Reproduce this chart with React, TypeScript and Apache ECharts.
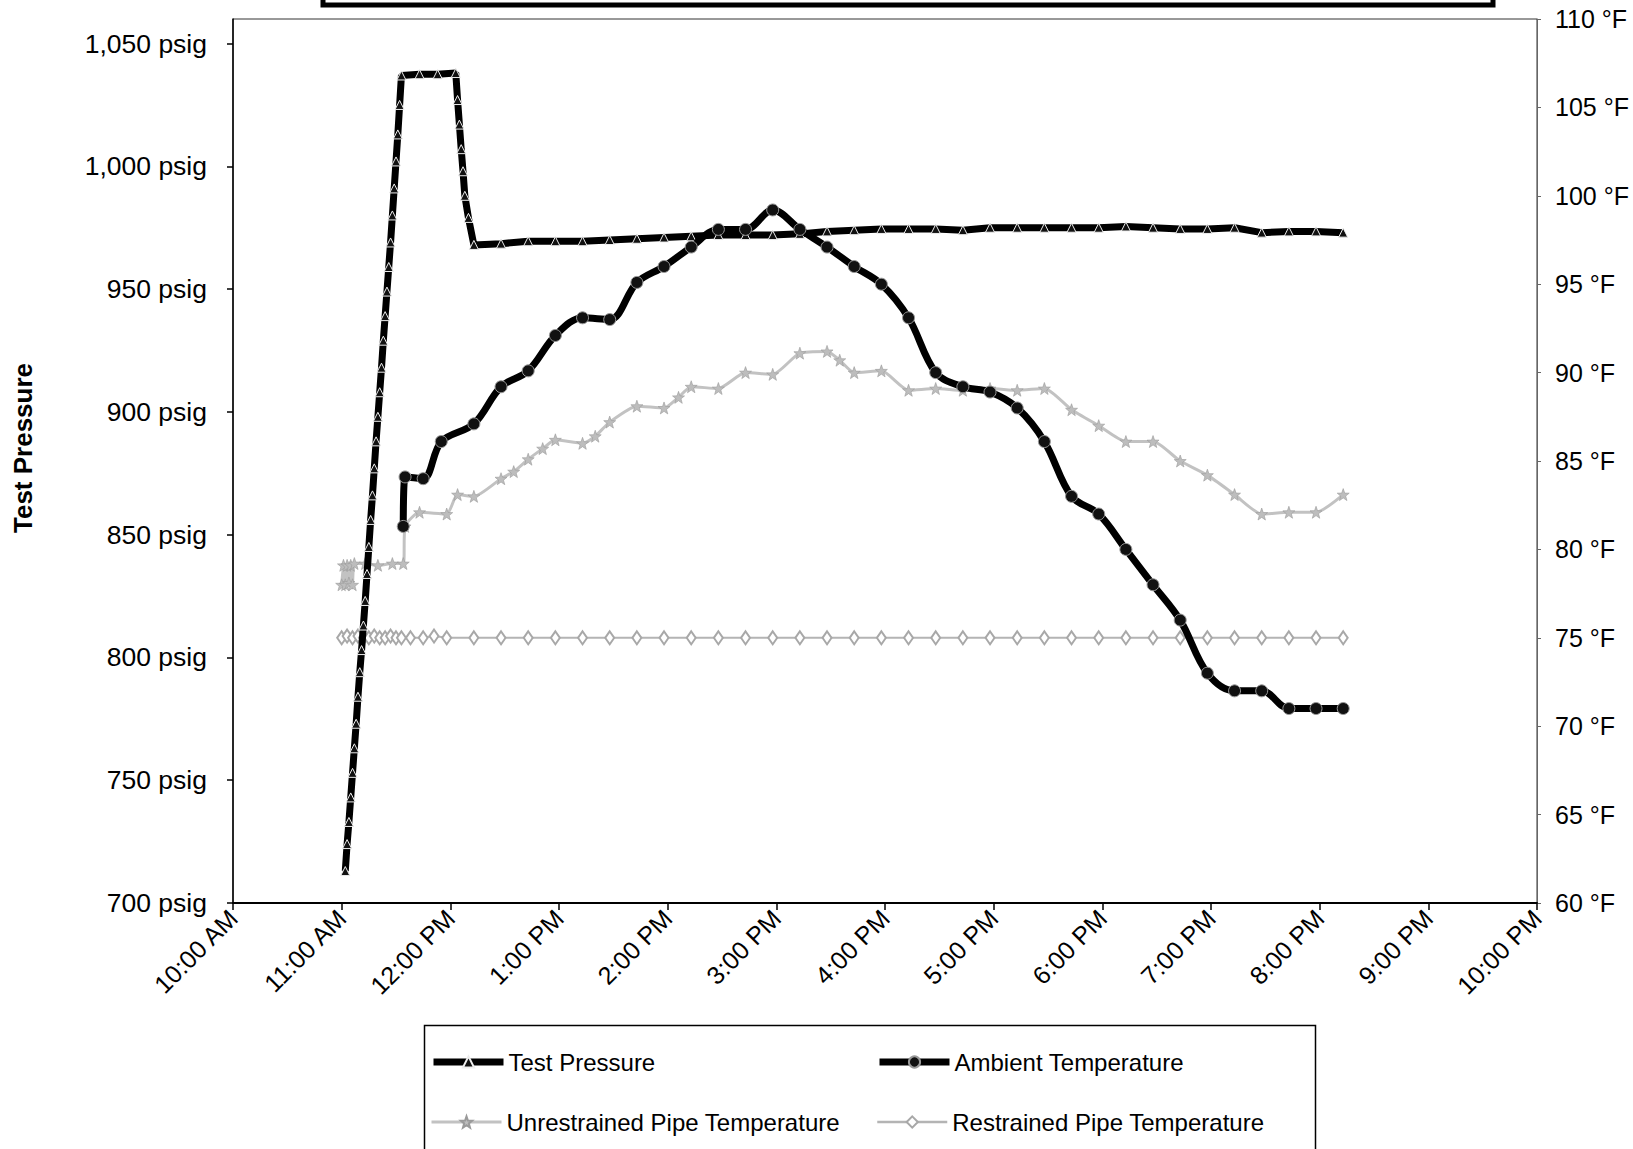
import React, { useEffect, useRef } from "react";
import * as echarts from "echarts";

// ---- Axis tick labels ----
const timeTickLabels = [
  "10:00 AM", "11:00 AM", "12:00 PM", "1:00 PM", "2:00 PM", "3:00 PM", "4:00 PM",
  "5:00 PM", "6:00 PM", "7:00 PM", "8:00 PM", "9:00 PM", "10:00 PM",
];

// ---- Test Pressure (psig, left axis) ----
const pressureTimes = [
  "11:02", "11:03", "11:04", "11:05", "11:06", "11:07", "11:08", "11:09", "11:10", "11:11",
  "11:12", "11:13", "11:14", "11:15", "11:16", "11:17", "11:18", "11:19", "11:20", "11:21",
  "11:22", "11:23", "11:24", "11:25", "11:26", "11:27", "11:28", "11:29", "11:30", "11:31",
  "11:32", "11:33", "11:43", "11:53", "12:03", "12:04", "12:05", "12:06", "12:07", "12:08",
  "12:10", "12:13", "12:28", "12:43", "12:58", "13:13", "13:28", "13:43", "13:58", "14:13",
  "14:28", "14:43", "14:58", "15:13", "15:28", "15:43", "15:58", "16:13", "16:28", "16:43",
  "16:58", "17:13", "17:28", "17:43", "17:58", "18:13", "18:28", "18:43", "18:58", "19:13",
  "19:28", "19:43", "19:58", "20:13",
];
const pressureValues = [
  713, 724, 733, 743, 753, 763, 773, 784, 794, 803,
  813, 823, 834, 845, 856, 866, 877, 888, 898, 908,
  918, 929, 939, 949, 959, 969, 980, 991, 1002, 1013,
  1025, 1037, 1037.5, 1037.5, 1038, 1027, 1017, 1007, 998, 988,
  979, 968, 968.5, 969.5, 969.5, 969.5, 970, 970.5, 971, 971.5,
  972, 972, 972, 972.5, 973.5, 974, 974.5, 974.5, 974.5, 974,
  975, 975, 975, 975, 975, 975.5, 975, 974.5, 974.5, 975,
  973, 973.5, 973.5, 973,
];

// ---- Ambient Temperature (°F, right axis) ----
const ambientTimes = [
  "11:34", "11:35", "11:45", "11:55", "12:13", "12:28", "12:43", "12:58", "13:13", "13:28",
  "13:43", "13:58", "14:13", "14:28", "14:43", "14:58", "15:13", "15:28", "15:43", "15:58",
  "16:13", "16:28", "16:43", "16:58", "17:13", "17:28", "17:43", "17:58", "18:13", "18:28",
  "18:43", "18:58", "19:13", "19:28", "19:43", "19:58", "20:13",
];
const ambientValues = [
  81.3, 84.1, 84.0, 86.1, 87.1, 89.2, 90.1, 92.1, 93.1, 93.0,
  95.1, 96.0, 97.1, 98.1, 98.1, 99.2, 98.1, 97.1, 96.0, 95.0,
  93.1, 90.0, 89.2, 88.9, 88.0, 86.1, 83.0, 82.0, 80.0, 78.0,
  76.0, 73.0, 72.0, 72.0, 71.0, 71.0, 71.0,
];

// ---- Unrestrained Pipe Temperature (°F, right axis) ----
const unrestrainedTimes = [
  "11:00", "11:01", "11:02", "11:03", "11:04", "11:05", "11:06", "11:07", "11:13", "11:20",
  "11:28", "11:34", "11:35", "11:43", "11:58", "12:04", "12:13", "12:28", "12:35", "12:43",
  "12:51", "12:58", "13:13", "13:20", "13:28", "13:43", "13:58", "14:06", "14:13", "14:28",
  "14:43", "14:58", "15:13", "15:28", "15:35", "15:43", "15:58", "16:13", "16:28", "16:43",
  "16:58", "17:13", "17:28", "17:43", "17:58", "18:13", "18:28", "18:43", "18:58", "19:13",
  "19:28", "19:43", "19:58", "20:13",
];
const unrestrainedValues = [
  78.0, 79.1, 78.0, 79.1, 78.1, 79.1, 78.0, 79.2, 79.2, 79.1,
  79.2, 79.2, 81.3, 82.1, 82.0, 83.1, 83.0, 84.0, 84.4, 85.1,
  85.7, 86.2, 86.0, 86.4, 87.2, 88.1, 88.0, 88.6, 89.2, 89.1,
  90.0, 89.9, 91.1, 91.2, 90.7, 90.0, 90.1, 89.0, 89.1, 89.0,
  89.1, 89.0, 89.1, 87.9, 87.0, 86.1, 86.1, 85.0, 84.2, 83.1,
  82.0, 82.1, 82.1, 83.1,
];

// ---- Restrained Pipe Temperature (°F, right axis) ----
const restrainedTimes = [
  "11:00", "11:03", "11:06", "11:09", "11:12", "11:15", "11:18", "11:21", "11:24", "11:27",
  "11:30", "11:33", "11:38", "11:45", "11:51", "11:58", "12:13", "12:28", "12:43", "12:58",
  "13:13", "13:28", "13:43", "13:58", "14:13", "14:28", "14:43", "14:58", "15:13", "15:28",
  "15:43", "15:58", "16:13", "16:28", "16:43", "16:58", "17:13", "17:28", "17:43", "17:58",
  "18:13", "18:28", "18:43", "18:58", "19:13", "19:28", "19:43", "19:58", "20:13",
];
const restrainedValues = [
  75.0, 75.1, 75.0, 75.1, 75.0, 75.0, 75.1, 75.0, 75.0, 75.1,
  75.0, 75.0, 75.0, 75.0, 75.1, 75.0, 75.0, 75.0, 75.0, 75.0,
  75.0, 75.0, 75.0, 75.0, 75.0, 75.0, 75.0, 75.0, 75.0, 75.0,
  75.0, 75.0, 75.0, 75.0, 75.0, 75.0, 75.0, 75.0, 75.0, 75.0,
  75.0, 75.0, 75.0, 75.0, 75.0, 75.0, 75.0, 75.0, 75.0,
];

const toHours = (s: string) => {
  const [h, m] = s.split(":").map(Number);
  return h + m / 60;
};
const pairs = (times: string[], vals: number[]) => times.map((t, i) => [toHours(t), vals[i]]);

const FONT = "'Liberation Sans', Arial, Helvetica, sans-serif";
const STAR = "path://M0,-10L2.4,-3.2L9.5,-3.1L3.9,1.3L5.9,8.1L0,4.1L-5.9,8.1L-3.9,1.3L-9.5,-3.1L-2.4,-3.2Z";

export default function App() {
  const ref = useRef<HTMLDivElement>(null);
  useEffect(() => {
    if (!ref.current) return;
    const chart = echarts.init(ref.current, undefined, { renderer: "svg" });
    const legendBase = {
      orient: "horizontal" as const,
      itemWidth: 70,
      itemHeight: 14,
      itemGap: 0,
      padding: 0,
      selectedMode: false,
      textStyle: { fontFamily: FONT, fontSize: 24, color: "#000", lineHeight: 26 },
    };
    chart.setOption({
      animation: false,
      backgroundColor: "#fff",
      textStyle: { fontFamily: FONT },
      grid: {
        left: 233,
        right: 96,
        top: 19,
        bottom: 246,
        show: true,
        borderColor: "#333",
        borderWidth: 1,
        containLabel: false,
      },
      xAxis: {
        type: "value",
        min: 10,
        max: 22,
        interval: 1,
        splitLine: { show: false },
        axisLine: { show: true, lineStyle: { color: "#000", width: 2 } },
        axisTick: { show: true, length: 7, lineStyle: { color: "#000", width: 1.5 } },
        axisLabel: {
          rotate: 45,
          margin: 11,
          fontFamily: FONT,
          fontSize: 25,
          color: "#000",
          formatter: (v: number) => timeTickLabels[Math.round(v) - 10] ?? "",
        },
      },
      yAxis: [
        {
          type: "value",
          min: 700,
          max: 1060,
          interval: 50,
          position: "left",
          splitLine: { show: false },
          axisLine: { show: true, lineStyle: { color: "#000", width: 1.5 } },
          axisTick: { show: true, length: 6, lineStyle: { color: "#000", width: 1.5 } },
          axisLabel: {
            margin: 26,
            fontFamily: FONT,
            fontSize: 26.5,
            color: "#000",
            showMaxLabel: false,
            formatter: (v: number) => (v % 50 === 0 ? `${v.toLocaleString("en-US")} psig` : ""),
          },
        },
        {
          type: "value",
          min: 60,
          max: 110,
          interval: 5,
          position: "right",
          splitLine: { show: false },
          axisLine: { show: true, lineStyle: { color: "#666", width: 1 } },
          axisTick: { show: true, length: 4, lineStyle: { color: "#666", width: 1 } },
          axisLabel: {
            margin: 18,
            fontFamily: FONT,
            fontSize: 25,
            color: "#000",
            formatter: (v: number) => `${v} °F`,
          },
        },
      ],
      legend: [
        { ...legendBase, data: ["Test Pressure"], left: 430, top: 1049, lineStyle: { width: 7 } },
        { ...legendBase, data: ["Ambient Temperature"], left: 876, top: 1049, lineStyle: { width: 7 } },
        { ...legendBase, data: ["Unrestrained Pipe Temperature"], left: 430, top: 1109, lineStyle: { width: 3 } },
        { ...legendBase, data: ["Restrained Pipe Temperature"], left: 876, top: 1109, lineStyle: { width: 2.5 } },
      ],
      graphic: [
        {
          type: "rect",
          shape: { x: 323, y: -40, width: 1170, height: 45 },
          style: { fill: "none", stroke: "#000", lineWidth: 5 },
          silent: true,
        },
        {
          type: "rect",
          shape: { x: 424.5, y: 1025.5, width: 891, height: 200 },
          style: { fill: "none", stroke: "#000", lineWidth: 1.5 },
          silent: true,
          z: -1,
        },
        {
          type: "text",
          x: 23,
          y: 448,
          rotation: Math.PI / 2,
          style: {
            text: "Test Pressure",
            font: `bold 26px ${FONT}`,
            fill: "#000",
            align: "center",
            verticalAlign: "middle",
          },
          silent: true,
        },
      ],
      series: [
        {
          name: "Restrained Pipe Temperature",
          type: "line",
          yAxisIndex: 1,
          data: pairs(restrainedTimes, restrainedValues),
          symbol: "emptyDiamond",
          symbolSize: [9, 13],
          lineStyle: { color: "#b4b4b4", width: 2 },
          itemStyle: { color: "#a8a8a8", borderWidth: 1.5 },
          z: 2,
        },
        {
          name: "Unrestrained Pipe Temperature",
          type: "line",
          yAxisIndex: 1,
          data: pairs(unrestrainedTimes, unrestrainedValues),
          symbol: STAR,
          symbolSize: 12,
          smooth: 0.2,
          lineStyle: { color: "#c2c2c2", width: 3 },
          itemStyle: { color: "#bdbdbd", borderColor: "#9a9a9a", borderWidth: 0.6 },
          z: 2,
        },
        {
          name: "Test Pressure",
          type: "line",
          yAxisIndex: 0,
          data: pairs(pressureTimes, pressureValues),
          symbol: "triangle",
          symbolSize: 9,
          lineStyle: { color: "#000", width: 7 },
          itemStyle: { color: "#111", borderColor: "#eee", borderWidth: 1 },
          z: 3,
        },
        {
          name: "Ambient Temperature",
          type: "line",
          yAxisIndex: 1,
          data: pairs(ambientTimes, ambientValues),
          symbol: "circle",
          symbolSize: 12,
          smooth: 0.35,
          lineStyle: { color: "#000", width: 7 },
          itemStyle: { color: "#111", borderColor: "#999", borderWidth: 1 },
          z: 4,
        },
      ],
    });
    return () => chart.dispose();
  }, []);
  return (
    <div
      ref={ref}
      style={{ position: "absolute", left: 0, top: 0, width: 1633, height: 1149, background: "#fff" }}
    />
  );
}
